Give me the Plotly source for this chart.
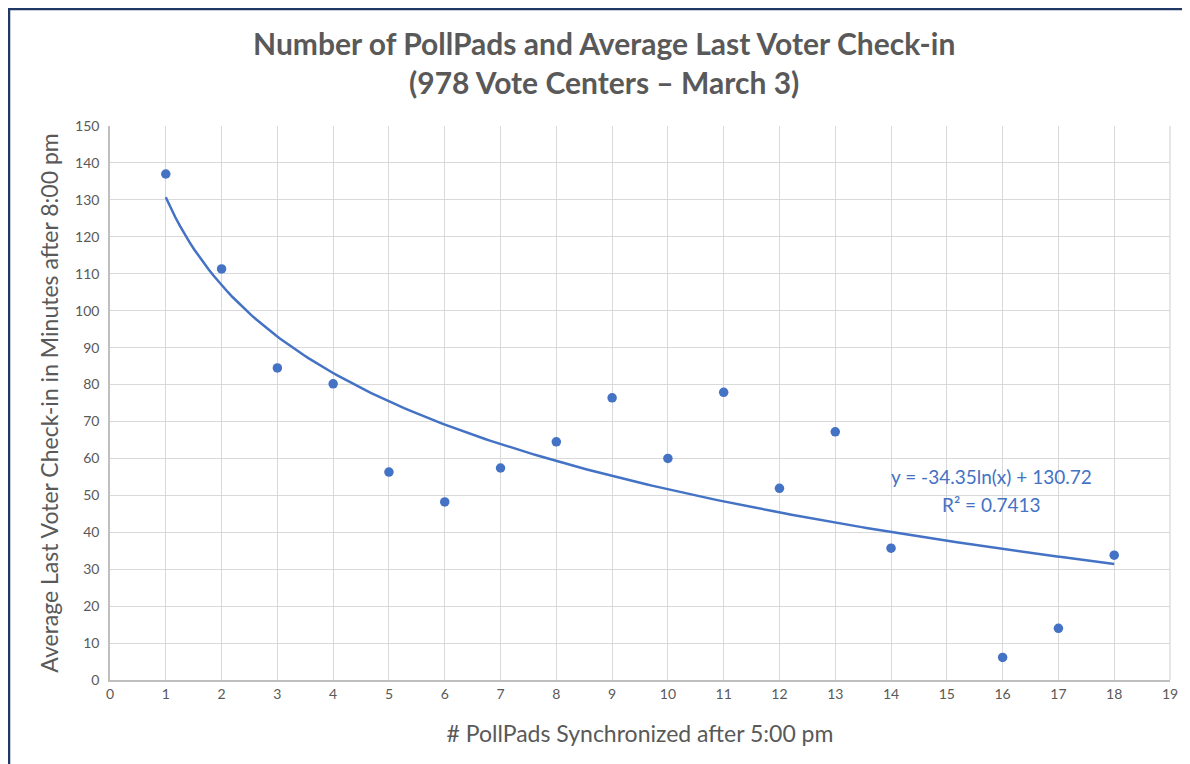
import numpy as np
import plotly.graph_objects as go

pollpads = [1, 2, 3, 4, 5, 6, 7, 8, 9, 10, 11, 12, 13, 14, 16, 17, 18]
avg_last_checkin = [137.0, 111.3, 84.5, 80.2, 56.3, 48.2, 57.4, 64.5, 76.4, 60.0, 77.9, 51.9, 67.2, 35.7, 6.1, 14.0, 33.8]

trend_slope = -34.35
trend_intercept = 130.72
trend_label = "y = -34.35ln(x) + 130.72"
r2_label = "R² = 0.7413"

title_text = "Number of PollPads and Average Last Voter Check-in<br>(978 Vote Centers – March 3)"
x_title = "# PollPads Synchronized after 5:00 pm"
y_title = "Average Last Voter Check-in in Minutes after 8:00 pm"

blue = "#4472C4"
gray_text = "#595959"
font_family = "Lato, 'Open Sans', 'Liberation Sans', sans-serif"

W, H = 1190, 764
ML, MR, MT, MB = 102, 28, 118, 92
PW, PH = W - ML - MR, H - MT - MB

tx = np.linspace(min(pollpads), max(pollpads), 200)
ty = trend_slope * np.log(tx) + trend_intercept

fig = go.Figure()
fig.add_trace(go.Scatter(x=tx, y=ty, mode="lines", line=dict(color=blue, width=2.5),
                         hoverinfo="skip", showlegend=False))
fig.add_trace(go.Scatter(x=pollpads, y=avg_last_checkin, mode="markers",
                         marker=dict(color=blue, size=9.5), showlegend=False))

fig.add_annotation(x=15.8, y=55.2, xref="x", yref="y", text=trend_label, showarrow=False,
                   font=dict(color=blue, size=19, family=font_family))
fig.add_annotation(x=15.8, y=47.6, xref="x", yref="y", text=r2_label, showarrow=False,
                   font=dict(color=blue, size=19, family=font_family))

fig.update_layout(
    width=W, height=H,
    margin=dict(l=ML, r=MR, t=MT, b=MB),
    paper_bgcolor="white", plot_bgcolor="white",
    title=dict(text=title_text, x=0.501, xanchor="center", y=0.938, yanchor="top",
               font=dict(size=30, color=gray_text, family=font_family, weight="bold")),
    font=dict(family=font_family, color=gray_text),
    xaxis=dict(range=[0, 19], dtick=1, tick0=0, showgrid=True, gridcolor="#d9d9d9", gridwidth=1.3,
               showline=True, linecolor="#bfbfbf", linewidth=1.5, zeroline=False,
               ticks="", tickfont=dict(size=14, color=gray_text),
               title=dict(text=x_title, font=dict(size=23, color=gray_text), standoff=25)),
    yaxis=dict(range=[0, 150], dtick=10, tick0=0, showgrid=True, gridcolor="#d9d9d9", gridwidth=1.3,
               showline=True, linecolor="#bfbfbf", linewidth=1.5, zeroline=False,
               ticks="", tickfont=dict(size=14, color=gray_text), ticklabelstandoff=6,
               title=dict(text=y_title, font=dict(size=23, color=gray_text), standoff=10)),
)

# outer frame (left and top edges visible)
fig.add_shape(type="rect", xref="paper", yref="paper",
              x0=(1 - ML) / PW, x1=(1300 - ML) / PW,
              y0=(PH + 200 - H) / PH - 1, y1=(PH + MT - 1) / PH,
              line=dict(color="#1F3864", width=2.5), fillcolor="rgba(0,0,0,0)", layer="below")
# right grid boundary line
fig.add_shape(type="line", xref="paper", yref="paper", x0=1, x1=1, y0=0, y1=1,
              line=dict(color="#d9d9d9", width=1.3), layer="below")

fig.write_html("out.html")
